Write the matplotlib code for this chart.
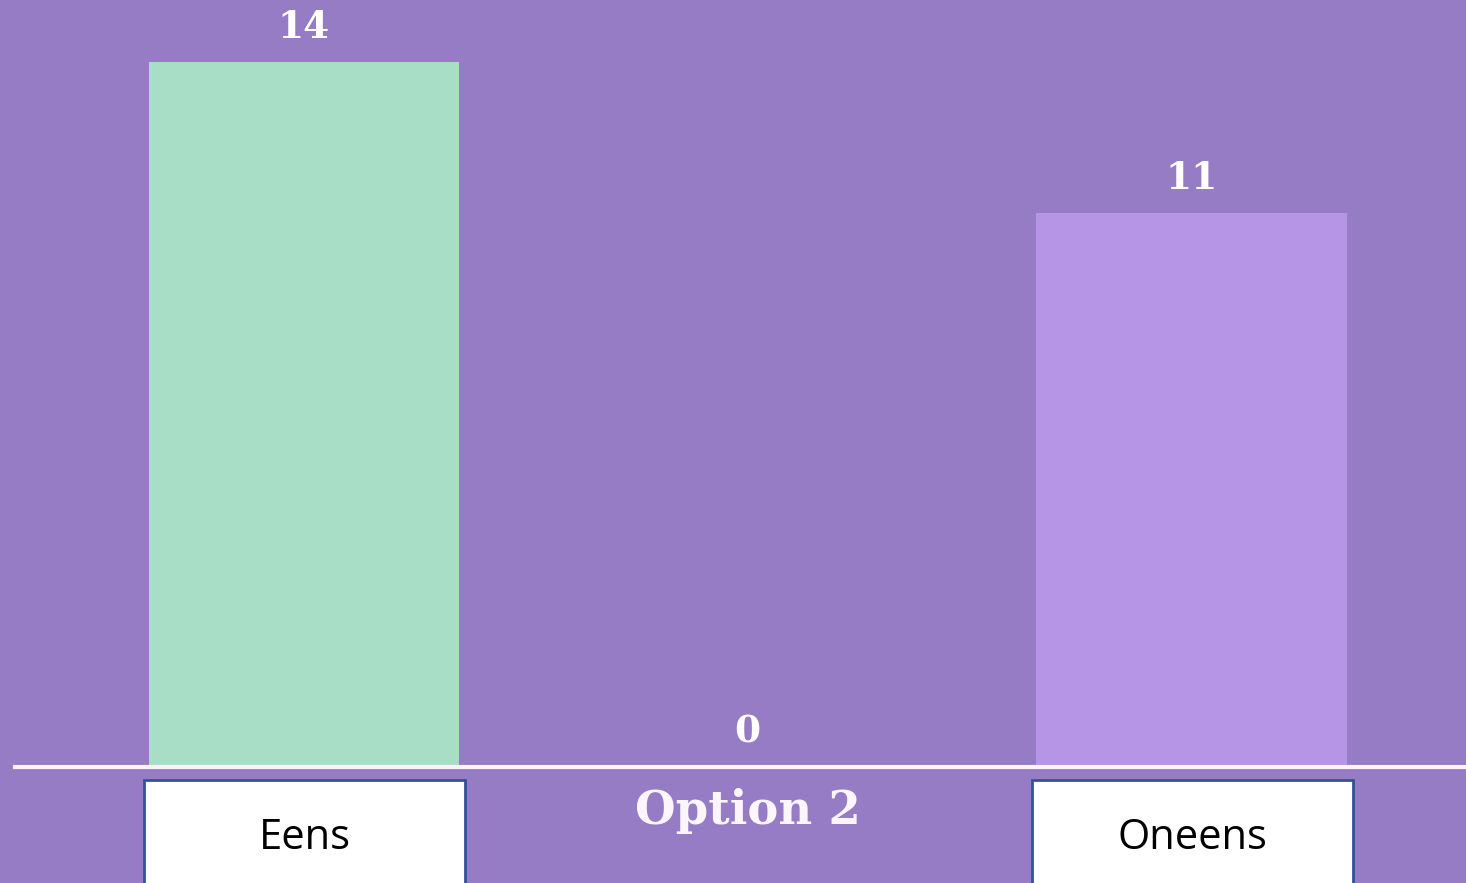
import matplotlib
matplotlib.use("Agg")
import matplotlib.pyplot as plt
from matplotlib.patches import Rectangle

categories = ['Eens', 'Option 2', 'Oneens']
values = [14, 0, 11]
bar_colors = ['#A8DEC6', '#B795E6', '#B795E6']
boxed = [True, False, True]   # which category labels sit in a white box

bg = '#967BC5'

fig = plt.figure(figsize=(14.66, 8.83), dpi=100)
fig.patch.set_facecolor(bg)
ax = fig.add_axes([0, 0, 1, 1])
ax.set_facecolor(bg)

x = range(len(categories))
ax.bar(x, values, width=0.70, color=bar_colors, zorder=2)
ax.set_xlim(-0.685, 2.619)
ax.set_ylim(-2.305, 15.24)
ax.axis('off')

# baseline
ax.axhline(0, xmin=0.0102, xmax=1, color='#FBF2FB', lw=3, zorder=3)

# value labels
for i, v in enumerate(values):
    ax.text(i, v + 0.32, str(v), ha='center', va='bottom', color='white',
            fontsize=27, fontweight='bold', family='DejaVu Serif', zorder=4)

# category labels
for i, (name, b) in enumerate(zip(categories, boxed)):
    if b:
        ax.add_patch(Rectangle((i - 0.36, -2.6), 0.7234, 2.6 - 0.258,
                               facecolor='white', edgecolor='#2F5597', lw=2,
                               zorder=4, clip_on=False))
        ax.text(i + 0.003, -1.41, name, ha='center', va='center', color='black',
                fontsize=30, family='Open Sans', zorder=5)
    else:
        ax.text(i, -0.87, name, ha='center', va='center', color='#FBF6FB',
                fontsize=33.5, fontweight='bold', family='DejaVu Serif', zorder=5)

fig.savefig('out.png', dpi=100, facecolor=bg)
